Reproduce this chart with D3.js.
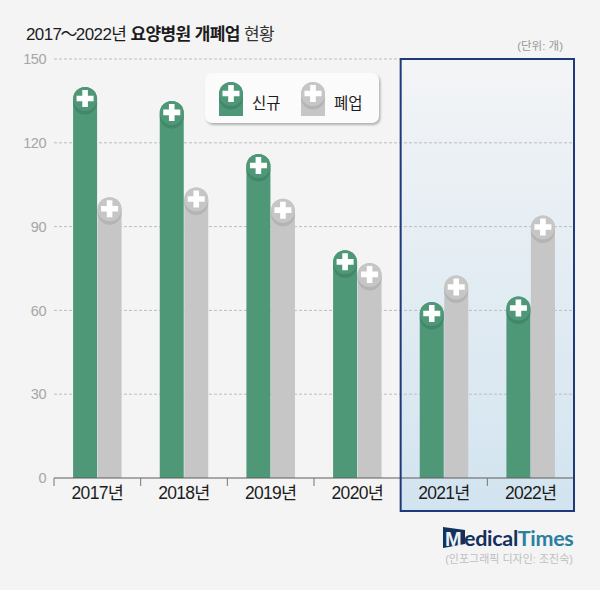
<!DOCTYPE html>
<html>
<head>
<meta charset="utf-8">
<script src="https://d3js.org/d3.v7.min.js"></script>
<style>
  html, body { margin: 0; padding: 0; background: #f4f4f4; }
  svg { display: block; }
  text { font-family: "Liberation Sans", "Noto Sans CJK KR", sans-serif; }
</style>
</head>
<body>
<div class="canva"></div>
<script>
const years = ["2017년", "2018년", "2019년", "2020년", "2021년", "2022년"];
const seriesNames = ["신규", "폐업"];
const newValues = [140, 135, 116, 81.5, 63, 65];
const closedValues = [100.5, 104, 100, 77, 72.5, 94];
const yTicks = [0, 30, 60, 90, 120, 150];
const colors = ["#4e9878", "#c6c6c6"];
const shades = ["#43866a", "#b4b4b4"];

const svg = d3.select(".canva").append("svg")
  .attr("width", 600)
  .attr("height", 590);

const defs = svg.append("defs");

const grad = defs.append("linearGradient")
  .attr("id", "panelFill")
  .attr("x1", 0).attr("x2", 0).attr("y1", 0).attr("y2", 1);
grad.append("stop").attr("offset", "0%").attr("stop-color", "#f3f4f6");
grad.append("stop").attr("offset", "100%").attr("stop-color", "#d2e4f0");

const shadow = defs.append("filter").attr("id", "legendShadow")
  .attr("x", "-5%").attr("y", "-10%").attr("width", "110%").attr("height", "130%");
shadow.append("feDropShadow")
  .attr("dx", 1.5).attr("dy", 2).attr("stdDeviation", 0.8)
  .attr("flood-color", "#aaa").attr("flood-opacity", 0.9);

// scales
const x = d3.scaleBand().domain(years).range([54, 574]);
const xSeries = d3.scaleBand().domain(seriesNames).range([-24.5, 24.5]);
const y = d3.scaleLinear().domain([0, 150]).range([478, 59]);
const barW = 24;
const r = barW / 2;

// highlight panel behind everything
const panelX = x("2021년");
svg.append("rect")
  .attr("x", panelX)
  .attr("y", y(150))
  .attr("width", x.step() * 2)
  .attr("height", 511 - y(150))
  .attr("fill", "url(#panelFill)");

// grid lines
svg.append("g").selectAll("line")
  .data(yTicks.filter(d => d > 0))
  .enter().append("line")
  .attr("x1", 54)
  .attr("x2", 574)
  .attr("y1", d => y(d))
  .attr("y2", d => y(d))
  .attr("stroke", "#bdbdbd")
  .attr("stroke-width", 1)
  .attr("stroke-dasharray", "3 2");

// y labels
const yAxis = svg.append("g")
  .attr("transform", "translate(54,0)")
  .call(d3.axisLeft(y).tickValues(yTicks).tickSize(0).tickPadding(8));
yAxis.select(".domain").remove();
yAxis.selectAll("text")
  .attr("fill", "#a6a6a6")
  .attr("font-size", 14.5)
  .style("letter-spacing", "-0.5px");

// bars
function barPath(d, top) {
  const left = x(d.year) + x.bandwidth() / 2 + xSeries(d.name) + (xSeries.bandwidth() - barW) / 2;
  return `M${left},${y(0)}V${top + r}A${r},${r} 0 0 1 ${left + barW},${top + r}V${y(0)}Z`;
}
const barData = [];
years.forEach((year, i) => {
  barData.push({ year, name: seriesNames[0], value: newValues[i], s: 0 });
  barData.push({ year, name: seriesNames[1], value: closedValues[i], s: 1 });
});
// grey ones go under the green ones
barData.sort((a, b) => b.s - a.s);

const bars = svg.append("g").selectAll("g")
  .data(barData)
  .enter().append("g");

bars.append("path")
  .attr("d", d => barPath(d, y(d.value)))
  .attr("fill", d => colors[d.s]);

const barCx = d => x(d.year) + x.bandwidth() / 2 + xSeries(d.name) + xSeries.bandwidth() / 2;

bars.append("circle")
  .attr("cx", barCx)
  .attr("cy", d => y(d.value) + r + 3.5)
  .attr("r", r)
  .attr("fill", d => shades[d.s]);

bars.append("circle")
  .attr("cx", barCx)
  .attr("cy", d => y(d.value) + r)
  .attr("r", r)
  .attr("fill", d => colors[d.s]);

function plus(sel, cx, cy) {
  sel.append("path")
    .attr("d", d => {
      const px = cx(d), py = cy(d);
      return `M${px - 2.8},${py - 8.5}h5.6v5.7h5.7v5.6h-5.7v5.7h-5.6v-5.7h-5.7v-5.6h5.7z`;
    })
    .attr("fill", "#fff");
}
plus(bars, barCx, d => y(d.value) + r - 0.5);

// x axis
svg.append("line")
  .attr("x1", 54).attr("x2", 574)
  .attr("y1", y(0)).attr("y2", y(0))
  .attr("stroke", "#5c5c5c")
  .attr("stroke-width", 1.2);

svg.append("g").selectAll("line")
  .data(years.filter(d => d !== "2021년"))
  .enter().append("line")
  .attr("x1", d => x(d))
  .attr("x2", d => x(d))
  .attr("y1", y(0))
  .attr("y2", y(0) + 8)
  .attr("stroke", "#777");

const xAxis = svg.append("g")
  .attr("transform", `translate(0,${y(0)})`)
  .call(d3.axisBottom(x).tickSize(0).tickPadding(9));
xAxis.select(".domain").remove();
xAxis.selectAll("text")
  .attr("fill", "#1c1c1c")
  .attr("font-size", 17.5)
  .style("letter-spacing", "-0.7px");

// panel border on top
svg.append("rect")
  .attr("x", panelX)
  .attr("y", y(150))
  .attr("width", x.step() * 2)
  .attr("height", 511 - y(150))
  .attr("fill", "none")
  .attr("stroke", "#1f3a7c")
  .attr("stroke-width", 2);

// legend
const legend = svg.append("g");
legend.append("rect")
  .attr("x", 205).attr("y", 73)
  .attr("width", 174).attr("height", 50)
  .attr("rx", 7)
  .attr("fill", "#fbfbfb")
  .attr("filter", "url(#legendShadow)");

const legendItems = legend.selectAll("g")
  .data(seriesNames)
  .enter().append("g")
  .attr("transform", (d, i) => `translate(${219 + i * 82},82)`);
legendItems.append("path")
  .attr("d", `M0,34V${r}A${r},${r} 0 0 1 ${barW},${r}V34Z`)
  .attr("fill", (d, i) => colors[i]);
legendItems.append("circle")
  .attr("cx", r).attr("cy", r + 3.5).attr("r", r)
  .attr("fill", (d, i) => shades[i]);
legendItems.append("circle")
  .attr("cx", r).attr("cy", r).attr("r", r)
  .attr("fill", (d, i) => colors[i]);
plus(legendItems, () => r, () => r - 0.5);
legendItems.append("text")
  .text(d => d)
  .attr("x", 33)
  .attr("y", 27)
  .attr("fill", "#1c1c1c")
  .attr("font-size", 15.5);

// title
const title = svg.append("text")
  .attr("x", 26).attr("y", 40)
  .attr("font-size", 17)
  .attr("fill", "#1c1c1c")
  .style("letter-spacing", "-0.6px");
title.append("tspan").text("2017");
title.append("tspan").text("～").attr("dx", -1);
title.append("tspan").text("2022년 ").attr("dx", -1);
title.append("tspan").attr("font-weight", "bold").text("요양병원 개폐업");
title.append("tspan").attr("fill", "#333").text(" 현황");

svg.append("text")
  .text("(단위: 개)")
  .attr("x", 563).attr("y", 50)
  .attr("text-anchor", "end")
  .attr("font-size", 11.5)
  .attr("fill", "#999");

// logo
svg.append("path")
  .attr("d", "M443,527L465,530V544L443,548Z")
  .attr("fill", "#14305c");
svg.append("text")
  .text("M")
  .attr("x", 445).attr("y", 546)
  .attr("font-size", 20).attr("font-weight", "bold")
  .attr("fill", "#e8f2f7");
const logo = svg.append("text")
  .attr("x", 464).attr("y", 546)
  .attr("font-size", 21.5)
  .attr("font-weight", "bold")
  .style("font-family", "Lato, 'Open Sans', sans-serif")
  .style("letter-spacing", "-0.3px");
logo.append("tspan").attr("fill", "#14305c").text("edical");
logo.append("tspan").attr("fill", "#2b80a0").text("Times");

svg.append("text")
  .text("(인포그래픽 디자인: 조진숙)")
  .attr("x", 573).attr("y", 563)
  .attr("text-anchor", "end")
  .attr("font-size", 11)
  .attr("fill", "#c0c0c0");
</script>
</body>
</html>
